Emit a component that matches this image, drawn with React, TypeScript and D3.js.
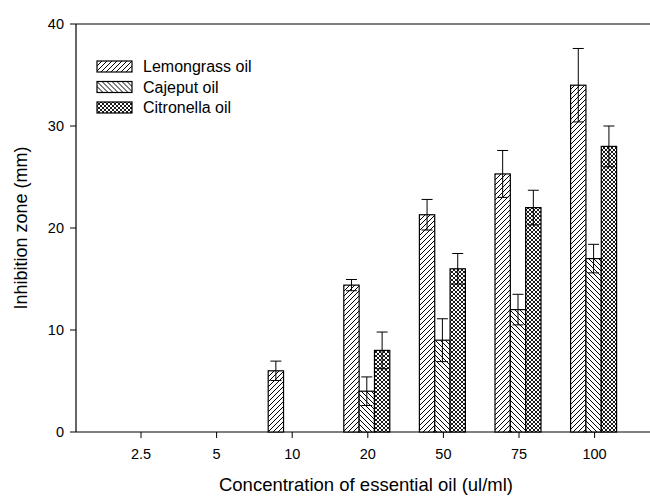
import React from "react";
import * as d3 from "d3";

const categories = ["2.5", "5", "10", "20", "50", "75", "100"];
const seriesNames = ["Lemongrass oil", "Cajeput oil", "Citronella oil"];
const lemongrass = [0, 0, 6, 14.4, 21.3, 25.3, 34];
const lemongrassErr = [0, 0, 0.95, 0.55, 1.5, 2.3, 3.6];
const cajeput = [0, 0, 0, 4, 9, 12, 17];
const cajeputErr = [0, 0, 0, 1.4, 2.1, 1.5, 1.4];
const citronella = [0, 0, 0, 8, 16, 22, 28];
const citronellaErr = [0, 0, 0, 1.8, 1.5, 1.7, 2.0];
const yTicks = [0, 10, 20, 30, 40];

const seriesValues = [lemongrass, cajeput, citronella];
const seriesErrors = [lemongrassErr, cajeputErr, citronellaErr];
const patternIds = ["pLemon", "pCaj", "pCit"];

export default function App() {
  const W = 650, H = 497;
  const left = 76, right = 650, top = 24, bottom = 432;
  const font = "Liberation Sans, Arial, sans-serif";

  const x = d3.scalePoint<string>().domain(categories).range([141, 594.6]);
  const y = d3.scaleLinear().domain([0, 40]).range([bottom, top]);
  const inner = d3.scaleBand<number>().domain([0, 1, 2]).range([-24, 22]).padding(0);
  const bw = inner.bandwidth();

  return (
    <svg width={W} height={H} style={{ position: "absolute", left: 0, top: 0, background: "#fff" }}>
      <defs>
        <pattern id="pLemon" patternUnits="userSpaceOnUse" width={5} height={5}>
          <rect width={5} height={5} fill="#fff" />
          <path d="M-1,1 L1,-1 M0,5 L5,0 M4,6 L6,4" stroke="#000" strokeWidth={1} />
        </pattern>
        <pattern id="pCaj" patternUnits="userSpaceOnUse" width={5} height={5}>
          <rect width={5} height={5} fill="#fff" />
          <path d="M-1,4 L1,6 M0,0 L5,5 M4,-1 L6,1" stroke="#000" strokeWidth={1} />
        </pattern>
        <pattern id="pCit" patternUnits="userSpaceOnUse" width={4} height={4}>
          <rect width={4} height={4} fill="#fff" />
          <path d="M-1,1 L1,-1 M0,4 L4,0 M3,5 L5,3 M-1,3 L1,5 M0,0 L4,4 M3,-1 L5,1" stroke="#000" strokeWidth={0.9} />
        </pattern>
      </defs>

      {/* frame lines */}
      <line x1={left} x2={right} y1={top} y2={top} stroke="#000" strokeWidth={1.2} />
      <line x1={left} x2={right} y1={bottom} y2={bottom} stroke="#000" strokeWidth={1.2} />
      <line x1={left} x2={left} y1={top} y2={bottom} stroke="#000" strokeWidth={1.2} />

      {/* y ticks */}
      {yTicks.map((t) => (
        <g key={t}>
          <line x1={left - 6} x2={left} y1={y(t)} y2={y(t)} stroke="#000" strokeWidth={1} />
          <text x={left - 12} y={y(t)} dy="0.35em" textAnchor="end" fontFamily={font} fontSize={14.5}>{t}</text>
        </g>
      ))}

      {/* x ticks */}
      {categories.map((c) => (
        <g key={c}>
          <line x1={x(c)!} x2={x(c)!} y1={bottom} y2={bottom + 6} stroke="#000" strokeWidth={1} />
          <text x={x(c)!} y={bottom + 27} textAnchor="middle" fontFamily={font} fontSize={14.5}>{c}</text>
        </g>
      ))}

      {/* bars */}
      {seriesValues.map((vals, s) =>
        vals.map((v, i) => {
          if (v <= 0) return null;
          const cx = x(categories[i])! + inner(s)!;
          const e = seriesErrors[s][i];
          const mid = cx + bw / 2;
          return (
            <g key={s + "-" + i}>
              <rect x={cx} y={y(v)} width={bw} height={bottom - y(v)} fill={`url(#${patternIds[s]})`} stroke="#000" strokeWidth={1.2} />
              {e > 0 && (
                <g stroke="#000" strokeWidth={1}>
                  <line x1={mid} x2={mid} y1={y(v + e)} y2={y(v - e)} />
                  <line x1={mid - 5.5} x2={mid + 5.5} y1={y(v + e)} y2={y(v + e)} />
                  <line x1={mid - 5.5} x2={mid + 5.5} y1={y(v - e)} y2={y(v - e)} />
                </g>
              )}
            </g>
          );
        })
      )}

      {/* legend */}
      {seriesNames.map((n, s) => (
        <g key={n} transform={`translate(97, ${61 + s * 20.5})`}>
          <rect x={0} y={0} width={35} height={11} fill={`url(#${patternIds[s]})`} stroke="#000" strokeWidth={1.2} />
          <text x={46} y={5.5} dy="0.35em" fontFamily={font} fontSize={16}>{n}</text>
        </g>
      ))}

      {/* axis titles */}
      <text x={366} y={491} textAnchor="middle" fontFamily={font} fontSize={18.5}>Concentration of essential oil (ul/ml)</text>
      <text transform={`translate(27, 228) rotate(-90)`} textAnchor="middle" fontFamily={font} fontSize={18}>Inhibition zone (mm)</text>
    </svg>
  );
}
